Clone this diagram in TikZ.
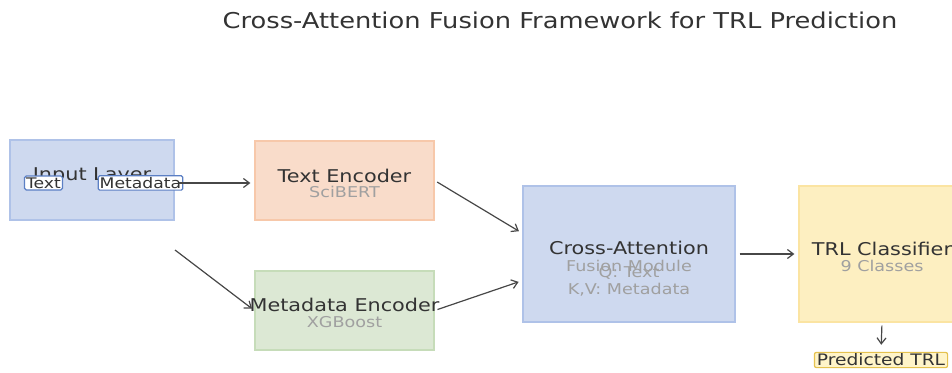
\documentclass[tikz,border=0pt]{standalone}
\usepackage{fontspec}
\setmainfont[FakeStretch=1.18]{DejaVu Sans}
\usepackage{xcolor}
\definecolor{cBlue}{HTML}{CED9EF}
\definecolor{cBlueLine}{HTML}{AFC2E8}
\definecolor{cOrange}{HTML}{F9DCCA}
\definecolor{cOrangeLine}{HTML}{F7C8AA}
\definecolor{cGreen}{HTML}{DCE8D4}
\definecolor{cGreenLine}{HTML}{C6DCB9}
\definecolor{cYellow}{HTML}{FDEFC1}
\definecolor{cYellowLine}{HTML}{FBE4A2}
\definecolor{cTag}{HTML}{FFF4C8}
\definecolor{cTagLine}{HTML}{E5C24F}
\definecolor{cChipLine}{HTML}{5B7FC4}
\definecolor{cDark}{HTML}{333333}
\definecolor{cSub}{HTML}{A0A0A0}
\usepackage{tikz}
\usetikzlibrary{positioning,arrows.meta}
\newcommand{\ftitle}{\fontsize{21.8}{24}\selectfont}
\newcommand{\fmain}{\fontsize{17.6}{20}\selectfont}
\newcommand{\fsub}{\fontsize{14.9}{17}\selectfont}
\newcommand{\fchip}{\fontsize{14.6}{16}\selectfont}
\newcommand{\ftag}{\fontsize{15.8}{18}\selectfont}
\tikzset{
  node-box/.style={draw,line width=1.2pt,inner sep=0pt},
  node-input/.style={fill=cBlue,draw=cBlueLine},
  node-text/.style={fill=cOrange,draw=cOrangeLine},
  node-meta/.style={fill=cGreen,draw=cGreenLine},
  node-fuse/.style={fill=cBlue,draw=cBlueLine},
  node-cls/.style={fill=cYellow,draw=cYellowLine},
  lbl-main/.style={text=cDark,font=\fmain,inner sep=0pt},
  lbl-sub/.style={text=cSub,font=\fsub,inner sep=0pt},
  node-chip/.style={draw=cChipLine,fill=white,line width=1.2pt,rounded corners=1.5pt,
    inner xsep=1.5pt,inner ysep=1.5pt,font=\fchip,text=cDark},
  node-tag/.style={draw=cTagLine,fill=cTag,line width=1.2pt,rounded corners=2pt,
    inner xsep=2.5pt,inner ysep=1.5pt,font=\ftag,text=cDark},
  arrow/.style={-{Straight Barb[length=6pt,width=9pt]},line width=1.2pt,draw=cDark!90},
}

\begin{document}
\begin{tikzpicture}[x=1pt,y=1pt]
  \useasboundingbox (0,0) rectangle (952,372);
  \clip (0,0) rectangle (952,372);

  \node[text=cDark,font=\ftitle] (title) at (560,352) {Cross-Attention Fusion Framework for TRL Prediction};

  \node[node-box,node-input,minimum width=164pt,minimum height=80pt] (inp) at (92,192) {};
  \node[node-box,node-text,minimum width=179pt,minimum height=79pt] (txtenc) at (344.5,191.5) {};
  \node[node-box,node-meta,minimum width=179pt,minimum height=79pt] (metaenc) at (344.5,61.5) {};
  \node[node-box,node-fuse,minimum width=212pt,minimum height=136pt] (cross) at (629,118) {};
  \node[node-box,node-cls,minimum width=166pt,minimum height=136pt] (cls) at (882,118) {};

  \node[lbl-main] (inpT) at ([yshift=4pt]inp.center) {Input Layer};
  \node[node-chip] (chipTxt) at (43.5,189) {Text};
  \node[node-chip] (chipMeta) at (140.5,189) {Metadata};

  \node[lbl-main] (txtT) at ([yshift=5pt]txtenc.center) {Text Encoder};
  \node[lbl-sub] (txtS) at ([yshift=-11.5pt]txtenc.center) {SciBERT};

  \node[lbl-main] (metaT) at ([yshift=5.5pt]metaenc.center) {Metadata Encoder};
  \node[lbl-sub] (metaS) at ([yshift=-11.5pt]metaenc.center) {XGBoost};

  \node[lbl-main] (crossT) at ([yshift=6pt]cross.center) {Cross-Attention};
  \node[lbl-sub] (crossS) at ([yshift=-12pt]cross.center) {Fusion Module};
  \node[lbl-sub] (crossQ) at ([yshift=-19pt]cross.center) {Q: Text};
  \node[lbl-sub] (crossKV) at ([yshift=-36pt]cross.center) {K,V: Metadata};

  \node[lbl-main] (clsT) at ([yshift=5pt]cls.center) {TRL Classifier};
  \node[lbl-sub] (clsS) at ([yshift=-12pt]cls.center) {9 Classes};

  \node[node-tag] (pred) at (881,12) {Predicted TRL};

  \coordinate (inpout) at (175,122);
  \draw[arrow,shorten <=-4pt] (chipMeta.east) -- ([xshift=-4pt]chipMeta.east -| txtenc.west);
  \draw[arrow,shorten >=3pt] (inpout) -- (metaenc.west);
  \draw[arrow,shorten <=3pt,shorten >=4pt] (txtenc.east) -- (cross.169);
  \draw[arrow,shorten <=3pt,shorten >=4pt] (metaenc.east) -- (cross.194);
  \draw[arrow,shorten <=4pt,shorten >=4pt] (cross.east) -- (cls.west);
  \draw[arrow,shorten <=3pt,shorten >=7pt] (cls.south) -- (pred.north);
\end{tikzpicture}
\end{document}
